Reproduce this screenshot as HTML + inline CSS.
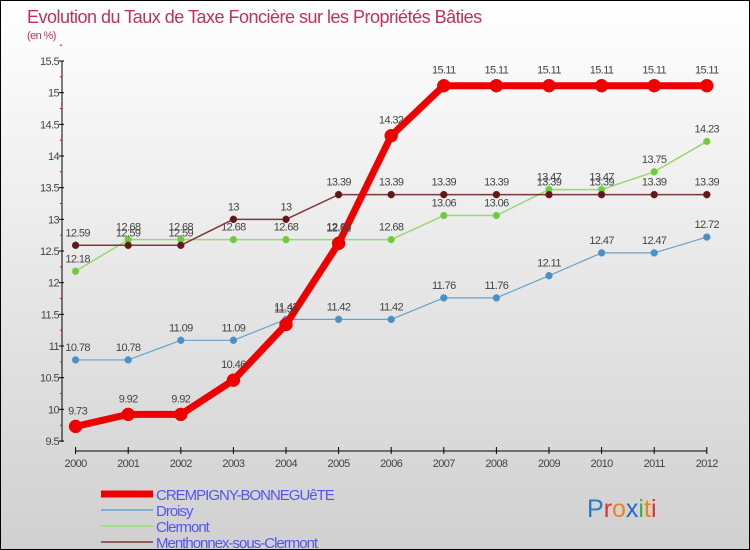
<!DOCTYPE html>
<html><head><meta charset="utf-8"><style>
body{margin:0}
#c{width:748px;height:548px;border:1px solid #000;background:linear-gradient(#ffffff,#d0d0d0);position:relative;font-family:"Liberation Sans",sans-serif;overflow:hidden}
</style></head><body>
<div id="c">
<svg id="s" width="748" height="548" style="position:absolute;left:0;top:0"></svg>
</div>
<script>
const years=[2000,2001,2002,2003,2004,2005,2006,2007,2008,2009,2010,2011,2012];
const crempigny=[9.73,9.92,9.92,10.46,11.34,12.62,14.32,15.11,15.11,15.11,15.11,15.11,15.11];
const droisy=[10.78,10.78,11.09,11.09,11.42,11.42,11.42,11.76,11.76,12.11,12.47,12.47,12.72];
const clermont=[12.18,12.68,12.68,12.68,12.68,12.68,12.68,13.06,13.06,13.47,13.47,13.75,14.23];
const menthonnex=[12.59,12.59,12.59,13,13,13.39,13.39,13.39,13.39,13.39,13.39,13.39,13.39];
const yTicks=[9.5,10,10.5,11,11.5,12,12.5,13,13.5,14,14.5,15,15.5];
const yMin=9.5,yMax=15.5;
const S=document.getElementById('s');const NS='http://www.w3.org/2000/svg';
function X(i){return 74.6+i*52.6}
function Y(v){return 440-(v-yMin)/(yMax-yMin)*380}
function el(t,a,p){const e=document.createElementNS(NS,t);for(const k in a)e.setAttribute(k,a[k]);(p||S).appendChild(e);return e}
function tx(x,y,s,a){const e=el('text',Object.assign({x:x,y:y,'font-size':11,fill:'#444','letter-spacing':'-0.6'},a||{}));e.textContent=s;return e}
let t=tx(26,22,'Evolution du Taux de Taxe Foncière sur les Propriétés Bâties',{'font-size':18,fill:'#c0305a','letter-spacing':'-0.5'});


t=tx(26,38,'(en %)',{'font-size':11,fill:'#c0305a'});


let ax=el('line',{x1:61,y1:60,x2:61,y2:441,stroke:'#000'});


yTicks.forEach(v=>{el('line',{x1:58,x2:63,y1:Y(v),y2:Y(v),stroke:'#000'});
 el('line',{x1:59,x2:61,y1:Y(v+0.25),y2:Y(v+0.25),stroke:'#e00'});
 const l=tx(58,Y(v)+4,String(v),{'text-anchor':'end'});
 
 });
let xa=el('line',{x1:X(0),y1:450,x2:X(12),y2:450,stroke:'#000'});


years.forEach((y,i)=>{el('line',{x1:X(i),x2:X(i),y1:446,y2:453,stroke:'#000'});
 const l=tx(X(i),466,String(y),{'text-anchor':'middle'});
 
 });
function series(d,col,dot,w,r,name){
 const g=el('g',{});
 
 
 el('polyline',{points:d.map((v,i)=>X(i)+','+Y(v)).join(' '),fill:'none',stroke:col,'stroke-width':w,'stroke-linejoin':'round'},g);
 d.forEach((v,i)=>{const c=el('circle',{cx:X(i),cy:Y(v),r:r,fill:dot,stroke:col,'stroke-width':0.5},g);
  
  
  tx(X(i)+(i==0?2:0),Y(v)-9-(r>4?3:0),String(v),{'text-anchor':'middle'});});
}
series(droisy,'#6aa0c8','#4a90c8',1.2,3.5,'series-droisy');
series(clermont,'#9ad870','#6ccc3c',1.5,3.5,'series-clermont');
series(menthonnex,'#7a3838','#601818',1.5,3.5,'series-menthonnex');
series(crempigny,'#ee0000','#ee0000',7,6.5,'series-crempigny');
const leg=[['CREMPIGNY-BONNEGUêTE','#ee0000',7],['Droisy','#80b0d0',2],['Clermont','#a0e080',2],['Menthonnex-sous-Clermont','#906060',2]];
leg.forEach((l,i)=>{const y=493+i*16;
 const g=el('g',{});
 
 
 el('line',{x1:100,x2:152,y1:y,y2:y,stroke:l[1],'stroke-width':l[2]},g);
 tx(155,y+6,l[0],{'font-size':15,fill:'#5555ee','letter-spacing':'-1'});
 g.appendChild(S.lastChild);});
const lg=el('text',{x:586,y:516,'font-size':25});


[['P','#2a7ac8'],['r','#e03030'],['o','#f08020'],['x','#1a6ad0'],['i','#40b040'],['t','#f08020'],['i','#e03030']].forEach(c=>{const s=el('tspan',{fill:c[1]},lg);s.textContent=c[0];});
</script>
</body></html>
